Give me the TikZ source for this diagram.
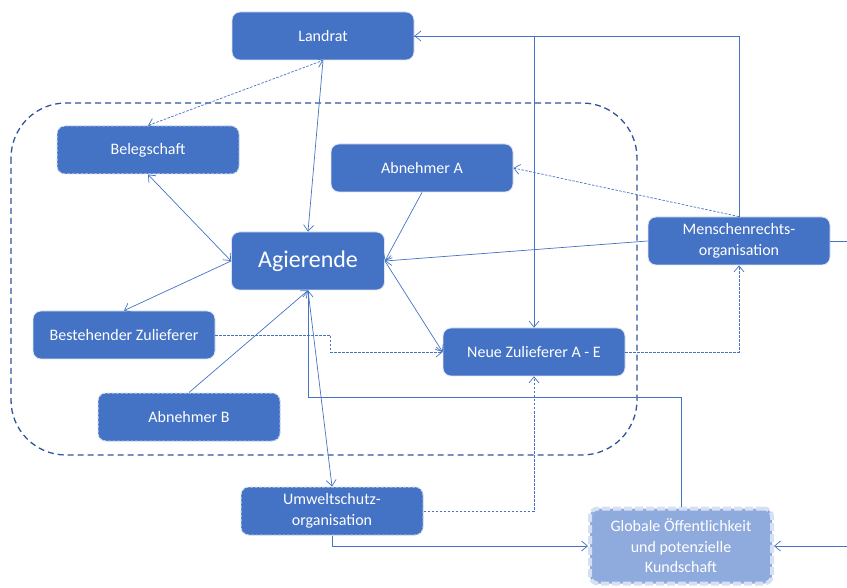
\documentclass[tikz,border=0pt]{standalone}
\usepackage{fontspec}
\setmainfont{Carlito}
\usetikzlibrary{arrows.meta}

\definecolor{nodeblue}{HTML}{4472C4}
\definecolor{nodeedge}{HTML}{DCE4F4}
\definecolor{dashedge}{HTML}{C5D3EC}
\definecolor{linkblue}{HTML}{4472C4}
\definecolor{groupblue}{HTML}{2F5597}
\definecolor{publicfill}{HTML}{8FAADC}
\definecolor{publicedge}{HTML}{D6E0F3}

\tikzset{
  box/.style={rectangle, rounded corners=8pt, fill=nodeblue, draw=nodeedge,
    line width=0.8pt, text=white, minimum width=182pt, minimum height=48pt,
    inner sep=0pt, align=center, font=\fontsize{16}{20.5}\selectfont},
  dbox/.style={box, draw=dashedge, line width=1pt, dash pattern=on 3pt off 1.5pt},
  mainbox/.style={box, minimum width=153pt, minimum height=58pt,
    font=\fontsize{24}{28}\selectfont},
  publicbox/.style={box, fill=publicfill, draw=publicedge, line width=4pt,
    dash pattern=on 8pt off 3pt, minimum height=75pt},
  link/.style={draw=linkblue, line width=0.7pt},
  dotlink/.style={link, dash pattern=on 2.5pt off 1.5pt},
  container/.style={draw=groupblue, line width=1.3pt, dash pattern=on 6pt off 4pt,
    rounded corners=55pt},
  >={Straight Barb[length=6pt,width=10pt,line width=0.7pt]}
}

\begin{document}
\begin{tikzpicture}[x=1pt,y=-1pt]
\useasboundingbox (0,0) rectangle (847,588);

% group of the actors around the company
\draw[container] (11,103) rectangle (637,455);

% actors
\node[box]       (land) at (323,36)  {Landrat};
\node[dbox]      (bel)  at (148,150) {Belegschaft};
\node[box]       (aa)   at (422,168) {Abnehmer A};
\node[mainbox]   (ag)   at (308,261) {Agierende};
\node[box]       (mr)   at (739,241) {Menschenrechts-\\organisation};
\node[box]       (bz)   at (124,335) {Bestehender Zulieferer};
\node[box]       (nz)   at (534,352) {Neue Zulieferer A - E};
\node[dbox]      (ab)   at (189,417) {Abnehmer B};
\node[dbox]      (uw)   at (332,511) {Umweltschutz-\\organisation};
\node[publicbox] (gl)   at (681,546) {Globale Öffentlichkeit\\und potenzielle\\Kundschaft};

% free ends at the right margin
\coordinate (mrout) at (847,241);
\coordinate (glin)  at (847,546);
\coordinate (gbend) at (308,397);

% solid relations
\draw[link,->]  (land.south) -- (ag.north);
\draw[link,<->] (bel.south) -- (ag.west);
\draw[link,->]  (ag.west) -- (bz.north);
\draw[link,->]  (aa.south) -- (ag.east);
\draw[link,->]  (mr.west) -- (ag.east);
\draw[link,->]  (ag.east) -- (nz.west);
\draw[link,->]  (ab.north) -- (ag.south);
\draw[link,->]  (ag.south) -- (uw.north);
\draw[link,->]  (mr.north) |- (land.east);
\draw[link,->]  (land.east) -| (nz.north);
\draw[link]     (mr.east) -- (mrout);
\draw[link,->]  (glin) -- (gl.east);
\draw[link,->]  (uw.south) |- (gl.west);
\draw[link,->]  (gl.north) |- (gbend) -- (ag.south);

% dotted relations
\draw[dotlink,<->] (bel.north) -- (land.south);
\draw[dotlink,->]  (mr.north) -- (aa.east);
\draw[dotlink,->]  (bz.east) -- ++(115,0) |- (nz.west);
\draw[dotlink,->]  (nz.east) -| (mr.south);
\draw[dotlink,->]  (uw.east) -| (nz.south);
\end{tikzpicture}
\end{document}
